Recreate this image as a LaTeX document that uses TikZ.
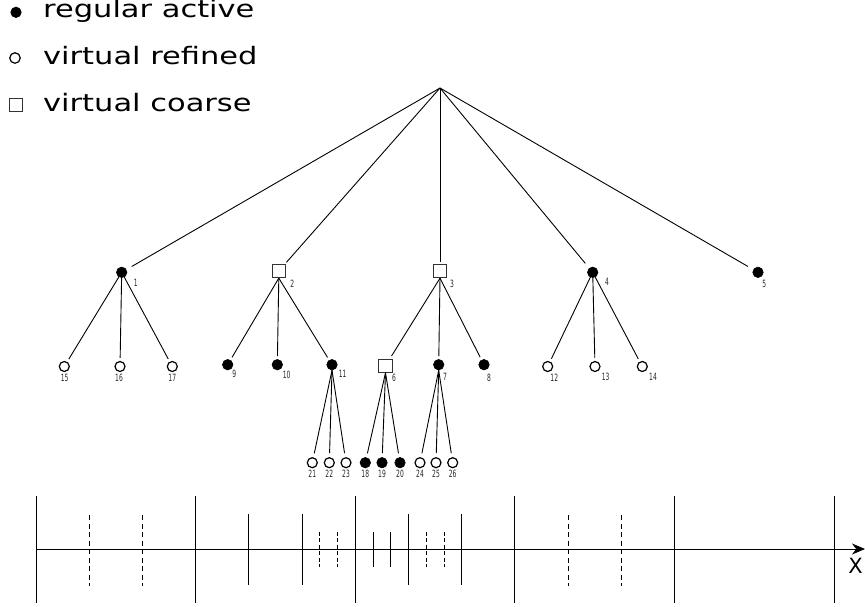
\documentclass[tikz,border=0pt]{standalone}
\usepackage{fontspec}
\usepackage{tikz}
\usetikzlibrary{arrows.meta}
\newfontfamily\legendfont[FakeStretch=1.27]{DejaVu Sans}
\newfontfamily\numfont[FakeStretch=0.6]{DejaVu Sans}
\newfontfamily\axisfont{DejaVu Sans}

\begin{document}
\begin{tikzpicture}[x=1pt,y=-1pt,
  active/.style={circle,draw,fill=black,inner sep=0pt,minimum size=10.5pt,line width=0.6pt},
  refined/.style={circle,draw,fill=white,inner sep=0pt,minimum size=10pt,line width=1.2pt},
  coarse/.style={rectangle,draw=black!80,fill=white,inner sep=0pt,minimum size=13.5pt,line width=0.8pt},
  num/.style={inner sep=0pt,font=\numfont\fontsize{10}{10}\selectfont,text=black!85},
  keytext/.style={anchor=base west,inner sep=0pt,font=\legendfont\fontsize{24}{24}\selectfont},
  edge/.style={line width=0.9pt},
  cut/.style={line width=0.8pt}]

\useasboundingbox (0,0) rectangle (865,606);

\node[active,minimum size=10.5pt] (keya) at (16,12.3) {};
\node[refined,minimum size=10.5pt] (keyr) at (15,58) {};
\node[coarse,minimum size=13.5pt] (keyc) at (16,105) {};
\node[keytext] (texta) at (43,17.7) {regular active};
\node[keytext] (textr) at (43,64.3) {virtual refined};
\node[keytext] (textc) at (43,111) {virtual coarse};

\coordinate (root) at (440,88);
\node[active] (n1) at (121.7,272.3) {};
\node[coarse] (n2) at (278.8,271) {};
\node[coarse] (n3) at (440,271) {};
\node[active] (n4) at (592.7,272.3) {};
\node[active] (n5) at (758,272.3) {};
\node[num] (l1) at (135.7,282.7) {1};
\node[num] (l2) at (292.3,283.7) {2};
\node[num] (l3) at (452,284) {3};
\node[num] (l4) at (607,281.7) {4};
\node[num] (l5) at (764.3,283.7) {5};

\foreach \name/\x in {15/64.3,16/120,17/172.3,12/547.7,13/595,14/642.3}
  \node[refined] (n\name) at (\x,366.5) {};
\foreach \name/\x in {9/227.7,10/277.3,11/332,7/438.7,8/484}
  \node[active] (n\name) at (\x,364.7) {};
\node[coarse] (n6) at (385.5,365.7) {};

\node[num] (l15) at (64.7,378.3) {15};
\node[num] (l16) at (119,378.3) {16};
\node[num] (l17) at (172.3,378.3) {17};
\node[num] (l9) at (234.3,374.3) {9};
\node[num] (l10) at (286.7,375.3) {10};
\node[num] (l11) at (342.7,374.3) {11};
\node[num] (l6) at (394,377.7) {6};
\node[num] (l7) at (445,376.7) {7};
\node[num] (l8) at (489,378) {8};
\node[num] (l12) at (554.3,377.3) {12};
\node[num] (l13) at (605.7,377.3) {13};
\node[num] (l14) at (653,377.3) {14};

\foreach \name/\x in {21/312.3,22/329.3,23/346,24/420,25/436,26/452.7}
  \node[refined] (n\name) at (\x,462.7) {};
\foreach \name/\x in {18/365.3,19/382,20/400}
  \node[active] (n\name) at (\x,462.7) {};
\foreach \name/\x in {21/312.3,22/329.3,23/346,18/365.3,19/382,20/400,24/420,25/436,26/452.7}
  \node[num] (l\name) at (\x,474) {\name};

\foreach \c in {n1,n4,n5} \draw[edge,shorten >=6pt] (root) -- (\c);
\foreach \c in {n2,n3} \draw[edge,shorten >=2pt] (root) -- (\c);

\foreach \c in {15,16,17} \draw[edge,shorten >=3pt] (n1.center) -- (n\c);
\foreach \c in {9,10,11} \draw[edge,shorten >=3pt] (n2.south) -- (n\c);
\foreach \c in {6,7,8} \draw[edge,shorten >=3pt] (n3.south) -- (n\c);
\foreach \c in {12,13,14} \draw[edge,shorten >=3pt] (n4.center) -- (n\c);

\foreach \c in {21,22,23} \draw[edge,shorten >=4pt] (n11.south) -- (n\c);
\foreach \c in {18,19,20} \draw[edge,shorten >=4pt] (n6.south) -- (n\c);
\foreach \c in {24,25,26} \draw[edge,shorten >=4pt] (n7.south) -- (n\c);

\coordinate (xs) at (36,549);
\coordinate (xe) at (865,549);
\draw[cut,-{Stealth[length=13pt,width=11pt]}] (xs) -- (xe);
\node[font=\axisfont\fontsize{21}{21}\selectfont,inner sep=0pt] (xlab) at (855.5,565.8) {X};

\foreach \k in {0,...,5} \draw[cut] (36+159.6*\k,496) -- ++(0,107);
\foreach \x in {248.8,302,408.4,461.6} \draw[cut] (\x,514) -- (\x,584.5);
\foreach \x in {89.2,142.4,568,621.2} \draw[cut,dash pattern=on 5pt off 3.5pt] (\x,515) -- (\x,586);
\foreach \x in {319.7,337.5,426.1,443.9} \draw[cut,dash pattern=on 4pt off 2.5pt] (\x,531.5) -- (\x,567);
\foreach \x in {372.9,390.7} \draw[cut] (\x,531.5) -- (\x,567);

\end{tikzpicture}
\end{document}
